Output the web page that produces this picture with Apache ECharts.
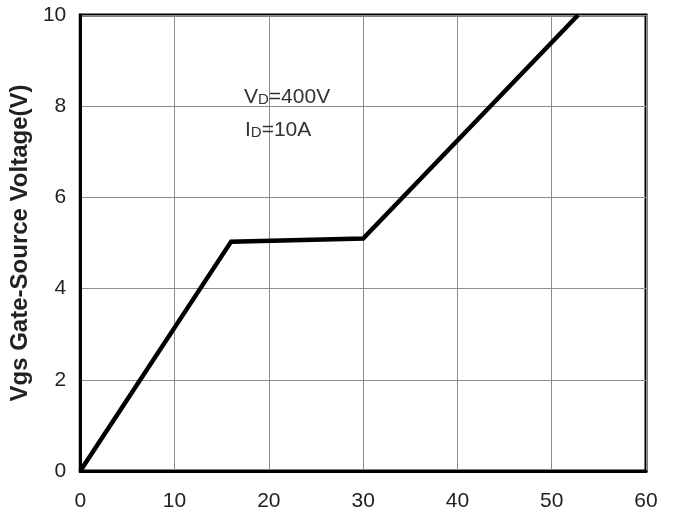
<!DOCTYPE html>
<html>
<head>
<meta charset="utf-8">
<script src="https://cdn.jsdelivr.net/npm/echarts@6/dist/echarts.min.js"></script>
<style>html,body{margin:0;padding:0;background:#fff;}#c{width:676px;height:516px;}</style>
</head>
<body>
<div id="c"></div>
<script>
// Gate charge data: Qg (nC) vs Vgs (V)
const gateCharge = [0, 16, 30, 52.8];
const vgsValues = [0, 5.03, 5.1, 10];
const xTicks = [0, 10, 20, 30, 40, 50, 60];
const yTicks = [0, 2, 4, 6, 8, 10];
const yAxisTitle = 'Vgs Gate-Source Voltage(V)';

const chart = echarts.init(document.getElementById('c'), null, {renderer: 'canvas'});
const FONT = '"Liberation Sans", Arial, sans-serif';
chart.setOption({
  animation: false,
  backgroundColor: '#fff',
  grid: {left: 80, right: 30, top: 15, bottom: 45, show: true, borderColor: '#000', borderWidth: 3, backgroundColor: 'transparent'},
  xAxis: {
    type: 'value', min: xTicks[0], max: xTicks[xTicks.length - 1], interval: 10,
    axisLine: {show: true, lineStyle: {color: '#000', width: 3}},
    axisTick: {show: false},
    axisLabel: {color: '#222', fontSize: 21, fontFamily: FONT, margin: 20},
    splitLine: {show: true, lineStyle: {color: '#8c8c8c', width: 1}}
  },
  yAxis: {
    type: 'value', min: yTicks[0], max: yTicks[yTicks.length - 1], interval: 2,
    name: yAxisTitle, nameLocation: 'middle', nameGap: 43,
    nameTextStyle: {color: '#222', fontSize: 24, fontWeight: 'bold', fontFamily: FONT},
    axisLine: {show: true, lineStyle: {color: '#000', width: 3}},
    axisTick: {show: false},
    axisLabel: {color: '#222', fontSize: 21, fontFamily: FONT, margin: 14},
    splitLine: {show: true, lineStyle: {color: '#8c8c8c', width: 1}}
  },
  graphic: [
    {type: 'text', left: 244, top: 87, z: 10,
     style: {text: '{a|V}{b|D}{a|=400V}', rich: {
       a: {fontSize: 21, fontFamily: FONT, fill: '#333', verticalAlign: 'bottom'},
       b: {fontSize: 15, fontFamily: FONT, fill: '#333', verticalAlign: 'bottom', padding: [0,0,1,0]}
     }}},
    {type: 'text', left: 245, top: 120, z: 10,
     style: {text: '{a|I}{b|D}{a|=10A}', rich: {
       a: {fontSize: 21, fontFamily: FONT, fill: '#333', verticalAlign: 'bottom'},
       b: {fontSize: 15, fontFamily: FONT, fill: '#333', verticalAlign: 'bottom', padding: [0,0,1,0]}
     }}}
  ],
  series: [{
    type: 'line',
    data: gateCharge.map((x, i) => [x, vgsValues[i]]),
    showSymbol: false,
    lineStyle: {color: '#000', width: 4.5, join: 'miter'},
    clip: true
  }]
});
</script>
</body>
</html>
